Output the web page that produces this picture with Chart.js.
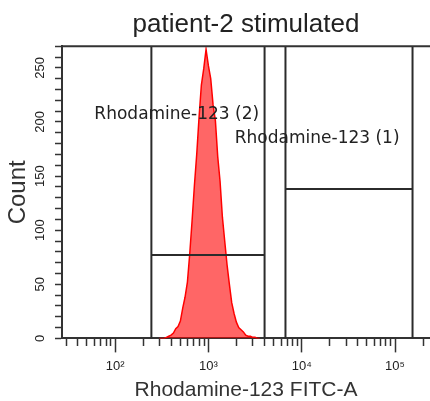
<!DOCTYPE html>
<html>
<head>
<meta charset="utf-8">
<script src="https://cdn.jsdelivr.net/npm/chart.js@4/dist/chart.umd.min.js"></script>
<style>
html, body { margin: 0; padding: 0; background: #ffffff; }
#wrap { width: 430px; height: 401px; }
</style>
</head>
<body>
<div id="wrap"><canvas id="c" width="430" height="401"></canvas></div>
<script>
// ---- chart texts ----
const titleText = 'patient-2 stimulated';
const xAxisTitle = 'Rhodamine-123 FITC-A';
const yAxisTitle = 'Count';

// ---- histogram: bin centres (FITC-A) and counts ----
const binCentres = [299, 316, 335, 355, 376, 398, 422, 447, 473, 501, 531, 562, 596, 631, 668, 708, 750, 794, 841, 891,
                    944, 1000, 1059, 1122, 1189, 1259, 1334, 1413, 1496, 1585, 1679, 1778, 1884, 1995, 2113, 2239, 2371, 2512,
                    2661, 2818, 2985, 3162, 3350, 3548];
const binCounts  = [0, 0, 0, 1, 2, 3, 5, 9, 11, 16, 28, 38, 52, 78, 108, 141, 170, 204, 234, 249,
                    267, 252, 240, 216, 201, 168, 145, 112, 90, 68, 50, 33, 23, 15, 10, 8, 6, 3,
                    2, 2, 1, 1, 0, 0];

// ---- axes ----
const xRange = [27, 237000];
const xDecades = [100, 1000, 10000, 100000];
const xDecadeLabels = ['10²', '10³', '10⁴', '10⁵'];
const xMinorMultipliers = [1, 2, 3, 4, 5, 6, 7, 8, 9];
const yRange = [0, 270];
const yTickStep = 10;
const yLabelStep = 50;

// ---- gates ----
const gate2Name = 'Rhodamine-123 (2)';
const gate2Bounds = [245, 4000];
const gate2Level = 77;
const gate1Name = 'Rhodamine-123 (1)';
const gate1Bounds = [6700, 154000];
const gate1Level = 138;

function gateSegments(bounds, level) {
  return [
    {x: bounds[0], y: yRange[0]}, {x: bounds[0], y: yRange[1]}, {x: bounds[0], y: null},
    {x: bounds[0], y: level}, {x: bounds[1], y: level}, {x: bounds[1], y: null},
    {x: bounds[1], y: yRange[0]}, {x: bounds[1], y: yRange[1]}
  ];
}

const isDecade = v => xDecades.indexOf(v) >= 0 || v === 10;

const topBorder = {
  id: 'topBorder',
  afterDatasetsDraw(chart) {
    const a = chart.chartArea, ctx = chart.ctx;
    ctx.save();
    ctx.strokeStyle = '#333333';
    ctx.lineWidth = 2;
    ctx.beginPath();
    ctx.moveTo(a.left, a.top);
    ctx.lineTo(a.right, a.top);
    ctx.stroke();
    ctx.restore();
  }
};

const gateLabels = {
  id: 'gateLabels',
  afterDatasetsDraw(chart, args, opts) {
    const ctx = chart.ctx, xs = chart.scales.x, ys = chart.scales.y;
    ctx.save();
    ctx.font = '17px "DejaVu Sans"';
    ctx.fillStyle = '#222222';
    ctx.textAlign = 'left';
    ctx.textBaseline = 'middle';
    opts.items.forEach(it => {
      ctx.fillText(it.text, xs.getPixelForValue(it.x), ys.getPixelForValue(it.y));
    });
    ctx.restore();
  }
};

new Chart(document.getElementById('c'), {
  type: 'line',
  data: {
    datasets: [
      {
        label: gate2Name,
        data: gateSegments(gate2Bounds, gate2Level),
        borderColor: '#2b2b2b', borderWidth: 2, pointRadius: 0, fill: false, spanGaps: false, order: 1
      },
      {
        label: gate1Name,
        data: gateSegments(gate1Bounds, gate1Level),
        borderColor: '#2b2b2b', borderWidth: 2, pointRadius: 0, fill: false, spanGaps: false, order: 1
      },
      {
        label: 'Rhodamine-123 FITC-A',
        data: binCentres.map((x, i) => ({x: x, y: binCounts[i]})),
        borderColor: '#ff0000', borderWidth: 1.5,
        backgroundColor: 'rgba(255,0,0,0.6)',
        fill: 'origin', pointRadius: 0, tension: 0, order: 2
      }
    ]
  },
  options: {
    responsive: false,
    animation: false,
    devicePixelRatio: 1,
    layout: { padding: 0 },
    scales: {
      x: {
        type: 'logarithmic',
        min: xRange[0], max: xRange[1],
        afterBuildTicks: s => {
          const t = [];
          [10, 100, 1000, 10000, 100000].forEach(d => {
            xMinorMultipliers.forEach(m => {
              const v = m * d;
              if (v >= xRange[0] && v <= xRange[1]) t.push({value: v});
            });
          });
          s.ticks = t;
        },
        ticks: {
          autoSkip: false, maxRotation: 0, minRotation: 0, padding: 6,
          color: '#222222',
          font: { family: '"Liberation Sans", Arial, sans-serif', size: 13, lineHeight: 1.2 },
          callback: v => {
            const i = xDecades.indexOf(v);
            return i >= 0 ? xDecadeLabels[i] : '';
          }
        },
        grid: {
          drawOnChartArea: false, tickLength: 14, tickColor: '#333333', tickWidth: 1.5,
          tickBorderDash: c => (c.tick && isDecade(c.tick.value)) ? [] : [7, 30]
        },
        border: { color: '#333333', width: 2 },
        title: {
          display: true, text: xAxisTitle, color: '#333333',
          font: { family: '"Liberation Sans", Arial, sans-serif', size: 21, lineHeight: 1 },
          padding: { top: 0, bottom: 0 }
        }
      },
      y: {
        type: 'linear',
        min: yRange[0], max: yRange[1],
        afterFit: s => { s.width = 62; },
        ticks: {
          stepSize: yTickStep, autoSkip: false, minRotation: 90, maxRotation: 90,
          crossAlign: 'center', padding: 4,
          color: '#222222',
          font: { family: '"Liberation Sans", Arial, sans-serif', size: 13 },
          callback: v => (v % yLabelStep === 0 ? String(v) : '')
        },
        grid: { drawOnChartArea: false, tickLength: 7, tickColor: '#333333', tickWidth: 1.5 },
        border: { color: '#333333', width: 2 },
        title: {
          display: true, text: yAxisTitle, color: '#333333',
          font: { family: '"Liberation Sans", Arial, sans-serif', size: 24, lineHeight: 1 },
          padding: { top: 6, bottom: 0 }
        }
      }
    },
    plugins: {
      legend: { display: false },
      tooltip: { enabled: false },
      title: {
        display: true, text: titleText, color: '#222222', fullSize: false,
        font: { family: '"Liberation Sans", Arial, sans-serif', size: 26, weight: 'normal', lineHeight: 1.2 },
        padding: { top: 9, bottom: 6 }
      },
      gateLabels: {
        items: [
          { text: gate2Name, x: 60, y: 207 },
          { text: gate1Name, x: 1918, y: 185 }
        ]
      }
    }
  },
  plugins: [topBorder, gateLabels]
});
</script>
</body>
</html>
